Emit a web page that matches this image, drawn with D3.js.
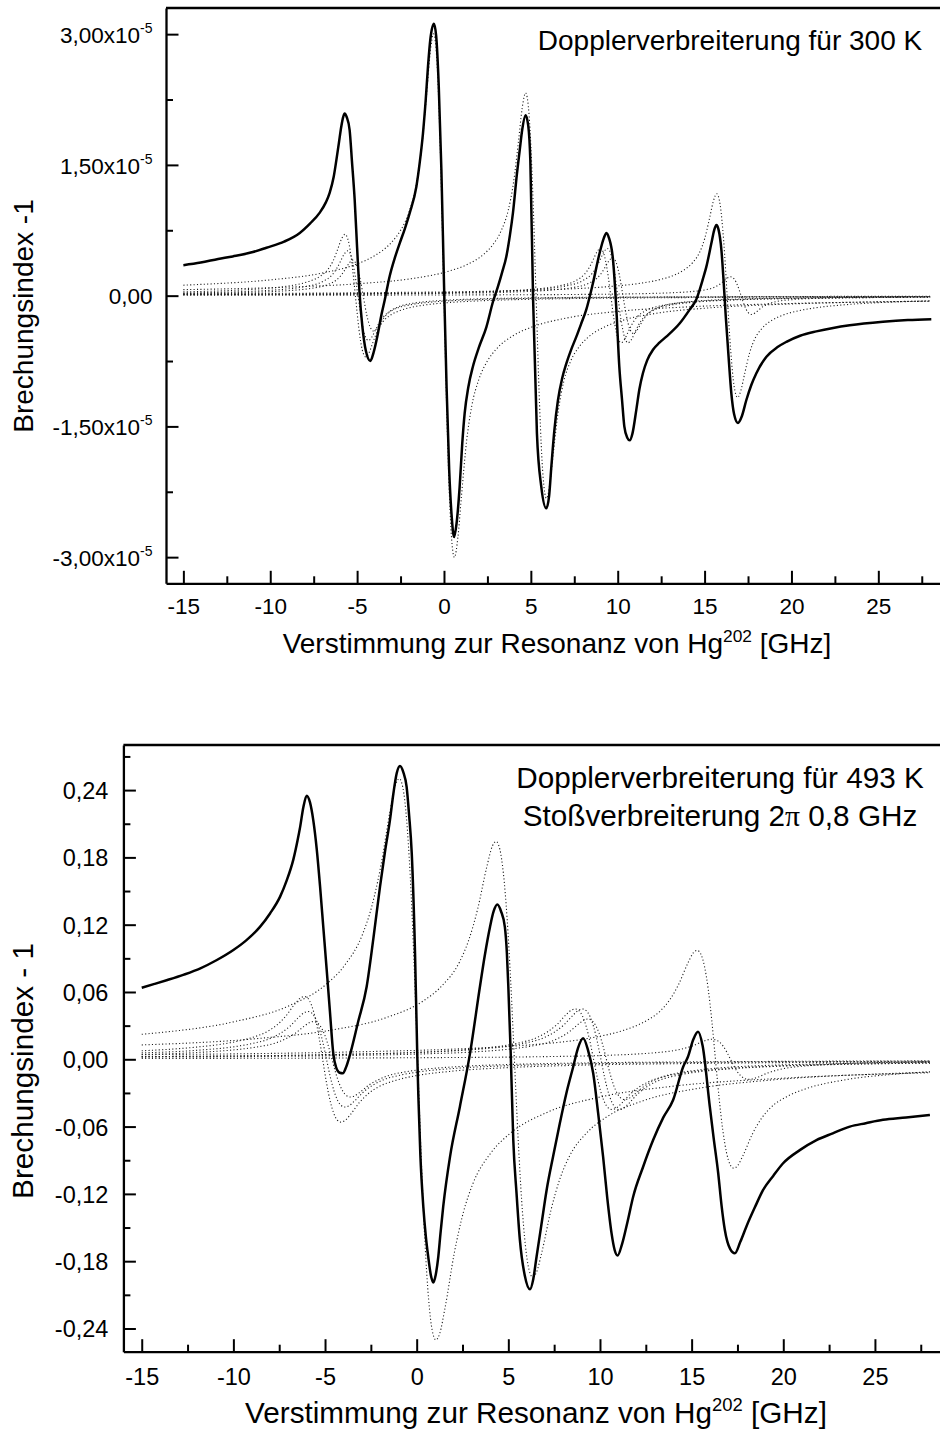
<!DOCTYPE html>
<html>
<head>
<meta charset="utf-8">
<script src="https://cdn.jsdelivr.net/npm/d3@7"></script>
<style>
  html, body { margin: 0; padding: 0; background: #fff; }
  text { font-family: "Liberation Sans", Arial, sans-serif; fill: #000; }
</style>
</head>
<body>
<svg id="chart" width="940" height="1434"></svg>
<script>
// ---------- axis ticks ----------
const xMajorTicks = [-15, -10, -5, 0, 5, 10, 15, 20, 25];
const xMinorTicks = [-12.5, -7.5, -2.5, 2.5, 7.5, 12.5, 17.5, 22.5, 27.5];
const topYMajorTicks = [-3.0, -1.5, 0, 1.5, 3.0];          // units of 1e-5
const topYMinorTicks = [-2.25, -0.75, 0.75, 2.25];
const botYMajorTicks = [-0.24, -0.18, -0.12, -0.06, 0, 0.06, 0.12, 0.18, 0.24];
const botYMinorTicks = [-0.21, -0.15, -0.09, -0.03, 0.03, 0.09, 0.15, 0.21, 0.27];

// ---------- 300 K : total refractive index (units of 1e-5) ----------
const topTotal = [
  [-15,0.35],[-14,0.38],[-13,0.42],[-12.16,0.45],[-11,0.50],[-10.22,0.55],[-9.2,0.62],[-8.3,0.72],
  [-7.7,0.83],[-7.16,0.95],[-6.8,1.07],[-6.58,1.18],[-6.35,1.36],[-6.19,1.56],[-6.05,1.75],[-5.91,1.94],
  [-5.8,2.05],[-5.72,2.09],[-5.6,2.05],[-5.43,1.90],[-5.3,1.55],[-5.14,1.10],[-5.0,0.55],[-4.86,0.03],
  [-4.7,-0.35],[-4.5,-0.63],[-4.24,-0.75],[-4.05,-0.65],[-3.8,-0.43],[-3.6,-0.22],[-3.41,-0.05],[-3.13,0.22],
  [-2.85,0.42],[-2.55,0.60],[-2.25,0.77],[-1.97,0.95],[-1.59,1.25],[-1.4,1.52],[-1.21,1.86],[-1.05,2.25],
  [-0.92,2.63],[-0.78,2.95],[-0.58,3.12],[-0.45,2.98],[-0.3,2.40],[-0.15,1.45],[0,0.15],[0.15,-1.05],
  [0.3,-2.0],[0.45,-2.55],[0.58,-2.77],[0.72,-2.62],[0.9,-2.2],[1.05,-1.7],[1.19,-1.35],[1.4,-1.05],
  [1.67,-0.81],[2.0,-0.6],[2.44,-0.36],[2.82,-0.07],[3.1,0.1],[3.35,0.27],[3.59,0.45],[3.8,0.7],
  [3.97,0.95],[4.2,1.4],[4.36,1.67],[4.5,1.9],[4.7,2.07],[4.85,1.95],[4.97,1.55],[5.13,-0.05],
  [5.35,-1.58],[5.6,-2.19],[5.89,-2.44],[6.05,-2.3],[6.18,-1.96],[6.35,-1.55],[6.56,-1.2],[6.8,-0.95],
  [7.04,-0.78],[7.3,-0.63],[7.62,-0.47],[7.9,-0.32],[8.19,-0.16],[8.57,0.14],[8.96,0.49],[9.2,0.66],
  [9.35,0.72],[9.5,0.66],[9.73,0.41],[9.92,-0.15],[10.09,-0.81],[10.25,-1.2],[10.38,-1.50],[10.55,-1.63],
  [10.69,-1.66],[10.85,-1.58],[11.07,-1.31],[11.25,-1.07],[11.45,-0.89],[11.7,-0.74],[12.03,-0.62],[12.4,-0.54],
  [12.8,-0.47],[13.56,-0.32],[14.14,-0.16],[14.53,-0.04],[14.72,0.07],[14.9,0.19],[15.1,0.33],[15.39,0.60],
  [15.55,0.75],[15.68,0.81],[15.8,0.76],[15.97,0.52],[16.1,0.15],[16.22,-0.24],[16.38,-0.7],[16.54,-1.12],
  [16.7,-1.36],[16.92,-1.46],[17.15,-1.38],[17.4,-1.2],[17.7,-1.02],[17.98,-0.89],[18.56,-0.70],[19.2,-0.59],
  [19.71,-0.53],[20.5,-0.46],[21.43,-0.41],[22.4,-0.37],[23.35,-0.34],[25.27,-0.30],[26.7,-0.28],[28.05,-0.27]
];

// ---------- 300 K : single lines ----------
const top202 = [
  [-15,0.120],[-14,0.129],[-10,0.181],[-7,0.259],[-5,0.364],[-4,0.457],[-3,0.616],[-2.5,0.749],[-2,0.966],
  [-1.6,1.265],[-1.3,1.671],[-1.0,2.314],[-0.8,2.775],[-0.6,3.003],[-0.4,2.670],[-0.2,1.604],[0,0],
  [0.2,-1.604],[0.4,-2.670],[0.6,-3.003],[0.8,-2.775],[1.0,-2.314],[1.3,-1.671],[1.6,-1.265],[2,-0.966],
  [2.5,-0.749],[3,-0.616],[4,-0.457],[5,-0.364],[7,-0.259],[10,-0.181],[14,-0.129],[20,-0.090],[28,-0.064]
];
const top200 = [
  [-15,0.069],[-8.7,0.100],[-4.7,0.140],[-1.7,0.200],[0.3,0.282],[1.3,0.354],[2.3,0.477],[2.8,0.581],
  [3.3,0.748],[3.7,0.980],[4.0,1.294],[4.3,1.793],[4.5,2.150],[4.7,2.326],[4.9,2.068],[5.1,1.243],[5.3,0],
  [5.5,-1.243],[5.7,-2.068],[5.9,-2.326],[6.1,-2.150],[6.3,-1.793],[6.6,-1.294],[6.9,-0.980],[7.3,-0.748],
  [7.8,-0.581],[8.3,-0.477],[9.3,-0.354],[10.3,-0.282],[12.3,-0.200],[15.3,-0.140],[19.3,-0.100],[25.3,-0.070],[28,-0.062]
];
const top199a = [
  [-15,0.022],[-3.7,0.035],[2.3,0.050],[6.3,0.070],[9.3,0.101],[11.3,0.142],[12.3,0.178],[13.3,0.240],
  [13.8,0.292],[14.3,0.376],[14.7,0.492],[15.0,0.650],[15.3,0.901],[15.5,1.080],[15.7,1.169],[15.9,1.039],
  [16.1,0.624],[16.3,0],[16.5,-0.624],[16.7,-1.039],[16.9,-1.169],[17.1,-1.080],[17.3,-0.901],[17.6,-0.650],
  [17.9,-0.492],[18.3,-0.376],[18.8,-0.292],[19.3,-0.240],[20.3,-0.178],[21.3,-0.142],[23.3,-0.101],[26.3,-0.070],[28,-0.060]
];
const top204 = [
  [-15,0.043],[-12.1,0.061],[-10.1,0.085],[-9.1,0.107],[-8.1,0.144],[-7.6,0.176],[-7.1,0.226],[-6.7,0.296],
  [-6.4,0.391],[-6.1,0.542],[-5.9,0.650],[-5.7,0.703],[-5.5,0.625],[-5.3,0.376],[-5.1,0],[-4.9,-0.376],
  [-4.7,-0.625],[-4.5,-0.703],[-4.3,-0.650],[-4.1,-0.542],[-3.8,-0.391],[-3.5,-0.296],[-3.1,-0.226],
  [-2.6,-0.176],[-2.1,-0.144],[-1.1,-0.107],[-0.1,-0.085],[1.9,-0.061],[4.9,-0.042],[8.9,-0.030],[14.9,-0.021],[28,-0.013]
];
const topM5b = [
  [-15,0.031],[-11.95,0.0443],[-9.95,0.0622],[-8.95,0.0783],[-7.95,0.1055],[-6.95,0.1653],[-6.45,0.2356],
  [-6.15,0.3192],[-5.95,0.396],[-5.75,0.475],[-5.55,0.514],[-5.35,0.457],[-5.15,0.275],[-4.95,0],
  [-4.75,-0.275],[-4.55,-0.457],[-4.35,-0.514],[-4.15,-0.475],[-3.95,-0.396],[-3.75,-0.319],[-3.45,-0.236],
  [-2.95,-0.165],[-1.95,-0.1055],[-0.95,-0.0783],[0.05,-0.0622],[2.05,-0.0443],[5.05,-0.031],[9.05,-0.0221],
  [15.05,-0.0154],[28,-0.0094]
];
const topM5c = [
  [-15,0.0236],[-11.65,0.035],[-9.65,0.0491],[-8.65,0.0618],[-7.65,0.0833],[-6.65,0.1305],[-6.15,0.186],
  [-5.85,0.252],[-5.65,0.313],[-5.45,0.375],[-5.25,0.406],[-5.05,0.361],[-4.85,0.217],[-4.65,0],
  [-4.45,-0.217],[-4.25,-0.361],[-4.05,-0.406],[-3.85,-0.375],[-3.65,-0.313],[-3.45,-0.252],[-3.15,-0.186],
  [-2.65,-0.1305],[-1.65,-0.0833],[-0.65,-0.0618],[0.35,-0.0491],[2.35,-0.035],[5.35,-0.0245],[9.35,-0.0175],
  [15.35,-0.0122],[28,-0.0075]
];
const top10a = [
  [-15,0.0132],[-4.4,0.0233],[-0.4,0.0326],[2.6,0.0466],[4.6,0.0655],[5.6,0.0824],[6.6,0.111],[7.6,0.174],
  [8.1,0.248],[8.4,0.336],[8.6,0.417],[8.8,0.500],[9.0,0.541],[9.2,0.481],[9.4,0.289],[9.6,0],
  [9.8,-0.289],[10.0,-0.481],[10.2,-0.541],[10.4,-0.500],[10.6,-0.417],[10.8,-0.336],[11.1,-0.248],
  [11.6,-0.174],[12.6,-0.111],[13.6,-0.0824],[14.6,-0.0655],[16.6,-0.0466],[19.6,-0.0326],[23.6,-0.0233],[28,-0.0177]
];
const top10b = [
  [-15,0.0130],[-4,0.0233],[0,0.0326],[3,0.0466],[5,0.0655],[6,0.0824],[7,0.111],[8,0.174],
  [8.5,0.248],[8.8,0.336],[9.0,0.417],[9.2,0.500],[9.4,0.541],[9.6,0.481],[9.8,0.289],[10.0,0],
  [10.2,-0.289],[10.4,-0.481],[10.6,-0.541],[10.8,-0.500],[11.0,-0.417],[11.2,-0.336],[11.5,-0.248],
  [12,-0.174],[13,-0.111],[14,-0.0824],[15,-0.0655],[17,-0.0466],[20,-0.0326],[24,-0.0233],[28,-0.0181]
];
const top10c = [
  [-15,0.0103],[-3.7,0.0186],[0.3,0.0261],[3.3,0.0373],[5.3,0.0524],[6.3,0.0659],[7.3,0.0888],[8.3,0.139],
  [8.8,0.198],[9.1,0.269],[9.3,0.334],[9.5,0.400],[9.7,0.433],[9.9,0.385],[10.1,0.231],[10.3,0],
  [10.5,-0.231],[10.7,-0.385],[10.9,-0.433],[11.1,-0.400],[11.3,-0.334],[11.5,-0.269],[11.8,-0.198],
  [12.3,-0.139],[13.3,-0.0888],[14.3,-0.0659],[15.3,-0.0524],[17.3,-0.0373],[20.3,-0.0261],[24.3,-0.0186],[28,-0.0147]
];
const top17 = [
  [-15,0.0040],[3.1,0.0093],[7.1,0.0130],[10.1,0.0186],[12.1,0.0262],[13.1,0.0330],[14.1,0.0444],[15.1,0.0696],
  [15.6,0.0992],[15.9,0.134],[16.1,0.167],[16.3,0.200],[16.5,0.216],[16.7,0.192],[16.9,0.116],[17.1,0],
  [17.3,-0.116],[17.5,-0.192],[17.7,-0.216],[17.9,-0.200],[18.1,-0.167],[18.3,-0.134],[18.6,-0.0992],
  [19.1,-0.0696],[20.1,-0.0444],[21.1,-0.0330],[22.1,-0.0262],[24.1,-0.0186],[27.1,-0.0130],[28,-0.0119]
];

// ---------- 493 K + collisions : total ----------
const botTotal = [
  [-15,0.0638],[-14.3,0.0672],[-13.6,0.0707],[-12.7,0.0755],[-11.8,0.0811],[-10.9,0.0885],[-10,0.0974],
  [-9.3,0.106],[-8.55,0.118],[-8.0,0.130],[-7.45,0.145],[-7.1,0.159],[-6.73,0.178],[-6.5,0.195],[-6.36,0.207],
  [-6.18,0.225],[-6.0,0.235],[-5.82,0.229],[-5.64,0.213],[-5.45,0.187],[-5.27,0.154],[-5.09,0.117],[-4.91,0.080],
  [-4.73,0.042],[-4.55,0.0053],[-4.4,-0.007],[-4.2,-0.012],[-4.03,-0.0125],[-3.85,-0.007],[-3.64,0.004],
  [-3.2,0.033],[-2.73,0.0647],[-2.36,0.108],[-2.0,0.154],[-1.73,0.185],[-1.46,0.213],[-1.27,0.237],[-1.09,0.255],
  [-0.91,0.2615],[-0.73,0.256],[-0.55,0.243],[-0.41,0.217],[-0.27,0.184],[-0.09,0.0945],[0.03,0.0053],
  [0.09,-0.032],[0.2,-0.085],[0.36,-0.131],[0.5,-0.158],[0.63,-0.176],[0.78,-0.193],[0.905,-0.199],[1.04,-0.192],
  [1.18,-0.176],[1.3,-0.155],[1.45,-0.131],[1.82,-0.0868],[2.36,-0.042],[2.91,0.0053],[3.45,0.0647],[3.72,0.093],
  [4.0,0.118],[4.2,0.132],[4.40,0.138],[4.6,0.132],[4.81,0.118],[4.92,0.095],[5.0,0.0647],[5.13,0.0053],
  [5.27,-0.072],[5.45,-0.12],[5.63,-0.161],[5.9,-0.193],[6.18,-0.205],[6.36,-0.196],[6.54,-0.176],[6.8,-0.148],
  [7.09,-0.1165],[7.45,-0.086],[7.81,-0.057],[8.17,-0.030],[8.54,-0.0066],[8.8,0.010],[9.08,0.0187],[9.35,0.008],
  [9.63,-0.0125],[9.9,-0.048],[10.17,-0.0868],[10.4,-0.124],[10.63,-0.155],[10.8,-0.170],[10.96,-0.175],
  [11.2,-0.165],[11.5,-0.145],[11.81,-0.1225],[12.35,-0.096],[12.9,-0.072],[13.45,-0.052],[13.99,-0.0363],
  [14.54,-0.0066],[14.8,0.0023],[15.1,0.018],[15.35,0.0246],[15.6,0.012],[15.99,-0.042],[16.2,-0.07],
  [16.45,-0.1016],[16.63,-0.13],[16.81,-0.152],[17.1,-0.169],[17.36,-0.173],[17.65,-0.163],[17.99,-0.149],
  [18.45,-0.132],[18.9,-0.1165],[19.45,-0.104],[19.99,-0.0927],[20.9,-0.081],[21.81,-0.072],[22.7,-0.066],
  [23.63,-0.060],[24.5,-0.057],[25.44,-0.054],[26.7,-0.052],[28,-0.0497]
];

// ---------- 493 K + collisions : single lines ----------
const bot202 = [
  [-15,0.0223],[-13.95,0.0239],[-9.95,0.0335],[-6.95,0.0478],[-4.95,0.0667],[-3.95,0.0834],[-2.95,0.1116],
  [-2.45,0.1363],[-1.95,0.1729],[-1.45,0.2214],[-1.15,0.2449],[-0.95,0.2502],[-0.75,0.2419],[-0.55,0.2137],
  [-0.35,0.1628],[-0.15,0.0891],[0.05,0],[0.25,-0.0891],[0.45,-0.1628],[0.65,-0.2137],[0.85,-0.2419],
  [1.05,-0.2502],[1.25,-0.2449],[1.55,-0.2214],[2.05,-0.1729],[2.55,-0.1363],[3.05,-0.1116],[4.05,-0.0834],
  [5.05,-0.0667],[7.05,-0.0478],[10.05,-0.0335],[14.05,-0.0239],[20.05,-0.0168],[28,-0.0120]
];
const bot200 = [
  [-15,0.0128],[-8.67,0.0185],[-4.67,0.0260],[-1.67,0.0371],[0.33,0.0517],[1.33,0.0647],[2.33,0.0866],
  [2.83,0.1058],[3.33,0.1342],[3.83,0.1719],[4.13,0.1901],[4.33,0.1942],[4.53,0.1877],[4.73,0.1659],
  [4.93,0.1264],[5.13,0.0692],[5.33,0],[5.53,-0.0692],[5.73,-0.1264],[5.93,-0.1659],[6.13,-0.1877],
  [6.33,-0.1942],[6.53,-0.1901],[6.83,-0.1719],[7.33,-0.1342],[7.83,-0.1058],[8.33,-0.0866],[9.33,-0.0647],
  [10.33,-0.0517],[12.33,-0.0371],[15.33,-0.0260],[19.33,-0.0185],[25.33,-0.0130],[28,-0.0115]
];
const bot199a = [
  [-15,0.0041],[-3.7,0.0065],[2.3,0.0093],[6.3,0.0130],[9.3,0.0185],[11.3,0.0259],[12.3,0.0324],[13.3,0.0433],
  [13.8,0.0529],[14.3,0.0671],[14.8,0.0859],[15.1,0.0950],[15.3,0.0971],[15.5,0.0939],[15.7,0.0829],
  [15.9,0.0632],[16.1,0.0346],[16.3,0],[16.5,-0.0346],[16.7,-0.0632],[16.9,-0.0829],[17.1,-0.0939],
  [17.3,-0.0971],[17.5,-0.0950],[17.8,-0.0859],[18.3,-0.0671],[18.8,-0.0529],[19.3,-0.0433],[20.3,-0.0324],
  [21.3,-0.0259],[23.3,-0.0185],[26.3,-0.0130],[28,-0.0111]
];
const bot204 = [
  [-15,0.0076],[-12.13,0.0107],[-10.13,0.0149],[-9.13,0.0187],[-8.13,0.0250],[-7.63,0.0305],[-7.13,0.0387],
  [-6.63,0.0496],[-6.33,0.0548],[-6.13,0.0560],[-5.93,0.0542],[-5.73,0.0479],[-5.53,0.0365],[-5.33,0.0200],
  [-5.13,0],[-4.93,-0.0200],[-4.73,-0.0365],[-4.53,-0.0479],[-4.33,-0.0542],[-4.13,-0.0560],[-3.93,-0.0548],
  [-3.63,-0.0496],[-3.13,-0.0387],[-2.63,-0.0305],[-2.13,-0.0250],[-1.13,-0.0187],[-0.13,-0.0149],
  [1.87,-0.0107],[4.87,-0.0075],[8.87,-0.0053],[14.87,-0.0038],[28,-0.0023]
];
const botM5b = [
  [-15,0.0057],[-11.92,0.0081],[-9.92,0.0113],[-8.92,0.0142],[-7.92,0.0190],[-6.92,0.0294],[-6.42,0.0377],
  [-6.12,0.0417],[-5.92,0.0426],[-5.72,0.0412],[-5.52,0.0364],[-5.32,0.0277],[-5.12,0.0152],[-4.92,0],
  [-4.72,-0.0152],[-4.52,-0.0277],[-4.32,-0.0364],[-4.12,-0.0412],[-3.92,-0.0426],[-3.72,-0.0417],
  [-3.42,-0.0377],[-2.92,-0.0294],[-1.92,-0.0190],[-0.92,-0.0142],[0.08,-0.0113],[2.08,-0.0081],
  [5.08,-0.0057],[9.08,-0.0041],[15.08,-0.0029],[28,-0.0017]
];
const botM5c = [
  [-15,0.0043],[-11.62,0.0064],[-9.62,0.0090],[-8.62,0.0112],[-7.62,0.0150],[-6.62,0.0232],[-6.12,0.0297],
  [-5.82,0.0329],[-5.62,0.0336],[-5.42,0.0325],[-5.22,0.0287],[-5.02,0.0219],[-4.82,0.0120],[-4.62,0],
  [-4.42,-0.0120],[-4.22,-0.0219],[-4.02,-0.0287],[-3.82,-0.0325],[-3.62,-0.0336],[-3.42,-0.0329],
  [-3.12,-0.0297],[-2.62,-0.0232],[-1.62,-0.0150],[-0.62,-0.0112],[0.38,-0.0090],[2.38,-0.0064],
  [5.38,-0.0045],[9.38,-0.0032],[15.38,-0.0023],[28,-0.0014]
];
const bot10a = [
  [-15,0.0024],[-4.35,0.0043],[-0.35,0.0060],[2.65,0.0086],[4.65,0.0119],[5.65,0.0149],[6.65,0.0200],
  [7.65,0.0310],[8.15,0.0397],[8.45,0.0439],[8.65,0.0448],[8.85,0.0433],[9.05,0.0383],[9.25,0.0292],
  [9.45,0.0160],[9.65,0],[9.85,-0.0160],[10.05,-0.0292],[10.25,-0.0383],[10.45,-0.0433],[10.65,-0.0448],
  [10.85,-0.0439],[11.15,-0.0397],[11.65,-0.0310],[12.65,-0.0200],[13.65,-0.0149],[14.65,-0.0119],
  [16.65,-0.0086],[19.65,-0.0060],[23.65,-0.0043],[28,-0.0033]
];
const bot10b = [
  [-15,0.0024],[-3.95,0.0043],[0.05,0.0060],[3.05,0.0086],[5.05,0.0119],[6.05,0.0149],[7.05,0.0200],
  [8.05,0.0310],[8.55,0.0397],[8.85,0.0439],[9.05,0.0448],[9.25,0.0433],[9.45,0.0383],[9.65,0.0292],
  [9.85,0.0160],[10.05,0],[10.25,-0.0160],[10.45,-0.0292],[10.65,-0.0383],[10.85,-0.0433],[11.05,-0.0448],
  [11.25,-0.0439],[11.55,-0.0397],[12.05,-0.0310],[13.05,-0.0200],[14.05,-0.0149],[15.05,-0.0119],
  [17.05,-0.0086],[20.05,-0.0060],[24.05,-0.0043],[28,-0.0034]
];
const bot10c = [
  [-15,0.0019],[-3.65,0.0034],[0.35,0.0048],[3.35,0.0068],[5.35,0.0096],[6.35,0.0120],[7.35,0.0160],
  [8.35,0.0248],[8.85,0.0317],[9.15,0.0351],[9.35,0.0359],[9.55,0.0347],[9.75,0.0306],[9.95,0.0233],
  [10.15,0.0128],[10.35,0],[10.55,-0.0128],[10.75,-0.0233],[10.95,-0.0306],[11.15,-0.0347],[11.35,-0.0359],
  [11.55,-0.0351],[11.85,-0.0317],[12.35,-0.0248],[13.35,-0.0160],[14.35,-0.0120],[15.35,-0.0096],
  [17.35,-0.0068],[20.35,-0.0048],[24.35,-0.0034],[28,-0.0027]
];
const bot17 = [
  [-15,0.0007],[3.12,0.0017],[7.12,0.0024],[10.12,0.0034],[12.12,0.0048],[13.12,0.0060],[14.12,0.0080],
  [15.12,0.0124],[15.62,0.0159],[15.92,0.0175],[16.12,0.0179],[16.32,0.0173],[16.52,0.0153],[16.72,0.0117],
  [16.92,0.0064],[17.12,0],[17.32,-0.0064],[17.52,-0.0117],[17.72,-0.0153],[17.92,-0.0173],[18.12,-0.0179],
  [18.32,-0.0175],[18.62,-0.0159],[19.12,-0.0124],[20.12,-0.0080],[21.12,-0.0060],[22.12,-0.0048],
  [24.12,-0.0034],[27.12,-0.0024],[28,-0.0022]
];

const topLines = [top202, top200, top199a, top204, topM5b, topM5c, top10a, top10b, top10c, top17];
const botLines = [bot202, bot200, bot199a, bot204, botM5b, botM5c, bot10a, bot10b, bot10c, bot17];

// ---------- drawing ----------
const svg = d3.select("#chart");

function topTickLabel(sel) {
  sel.each(function (d) {
    const t = d3.select(this);
    t.text(null);
    if (d === 0) { t.text("0,00"); return; }
    t.append("tspan").text(d.toFixed(2).replace(".", ","));
    t.append("tspan").text("x10");
    t.append("tspan").attr("dy", -10).attr("font-size", 14).text("-5");
  });
}

function drawPanel(cfg) {
  const g = svg.append("g");
  const x = d3.scaleLinear().domain([-16, 28.55]).range([cfg.left, 940]);
  const y = d3.scaleLinear().domain(cfg.yDomain).range([cfg.bottom, cfg.top]);

  const clipId = "clip-" + cfg.name;
  svg.append("clipPath").attr("id", clipId)
    .append("rect").attr("x", cfg.left).attr("y", cfg.top)
    .attr("width", 940 - cfg.left).attr("height", cfg.bottom - cfg.top);

  const line = d3.line().x(d => x(d[0])).y(d => y(d[1])).curve(d3.curveMonotoneX);
  const plot = g.append("g").attr("clip-path", `url(#${clipId})`);

  plot.selectAll("path.comp").data(cfg.components).join("path")
    .attr("class", "comp")
    .attr("d", line)
    .attr("fill", "none")
    .attr("stroke", "#1a1a1a")
    .attr("stroke-width", 1.1)
    .attr("stroke-dasharray", "1.1 2.3");

  plot.append("path").datum(cfg.total)
    .attr("d", line)
    .attr("fill", "none")
    .attr("stroke", "#000")
    .attr("stroke-width", 2.5)
    .attr("stroke-linejoin", "round");

  // minor ticks
  g.append("g").attr("transform", `translate(0,${cfg.bottom})`)
    .call(d3.axisBottom(x).tickValues(xMinorTicks).tickSize(-7).tickFormat(""))
    .call(a => a.select(".domain").remove());
  g.append("g").attr("transform", `translate(${cfg.left},0)`)
    .call(d3.axisLeft(y).tickValues(cfg.yMinor).tickSize(-7).tickFormat(""))
    .call(a => a.select(".domain").remove());

  // major axes
  const xa = g.append("g").attr("transform", `translate(0,${cfg.bottom})`)
    .call(d3.axisBottom(x).tickValues(xMajorTicks).tickSizeInner(-12.5).tickSizeOuter(0)
      .tickPadding(cfg.xPad).tickFormat(d => String(d)));
  xa.selectAll("text").attr("font-size", cfg.tickFont).attr("font-family", "Liberation Sans, Arial, sans-serif");

  const ya = g.append("g").attr("transform", `translate(${cfg.left},0)`)
    .call(d3.axisLeft(y).tickValues(cfg.yMajor).tickSizeInner(-12.5).tickSizeOuter(0)
      .tickPadding(cfg.yPad).tickFormat(cfg.yFormat));
  ya.selectAll("text").attr("font-size", cfg.tickFont).attr("dy", "0.36em")
    .attr("font-family", "Liberation Sans, Arial, sans-serif");
  if (cfg.yLabelFn) ya.selectAll(".tick text").call(cfg.yLabelFn);

  g.selectAll(".tick line").attr("stroke", "#000").attr("stroke-width", 2);
  g.selectAll(".domain").attr("stroke", "#000").attr("stroke-width", 2.3);

  // upper frame line
  g.append("line").attr("x1", cfg.left).attr("x2", 940).attr("y1", cfg.top).attr("y2", cfg.top)
    .attr("stroke", "#000").attr("stroke-width", 2.3);

  // axis titles
  const xt = g.append("text").attr("x", cfg.xTitleX).attr("y", cfg.xTitleY)
    .attr("text-anchor", "middle").attr("font-size", cfg.titleFont);
  xt.append("tspan").text("Verstimmung zur Resonanz von Hg");
  xt.append("tspan").attr("dy", -cfg.titleFont * 0.4).attr("font-size", cfg.titleFont * 0.62).text("202");
  xt.append("tspan").attr("dy", cfg.titleFont * 0.4).text(" [GHz]");

  g.append("text").attr("transform", `translate(${cfg.yTitleX},${cfg.yTitleY}) rotate(-90)`)
    .attr("text-anchor", "middle").attr("font-size", cfg.titleFont).text(cfg.yTitle);

  // annotation
  cfg.notes.forEach(n => {
    const t = g.append("text").attr("x", n.x).attr("y", n.y)
      .attr("text-anchor", "middle").attr("font-size", cfg.titleFont);
    n.parts.forEach(p => {
      const s = t.append("tspan").text(p.text);
      if (p.serif) s.attr("font-family", "Liberation Serif, serif");
    });
  });
}

drawPanel({
  name: "top", left: 166, top: 8, bottom: 583.3,
  yDomain: [-3.3, 3.3], yMajor: topYMajorTicks, yMinor: topYMinorTicks,
  yFormat: d => String(d), yLabelFn: topTickLabel,
  total: topTotal, components: topLines,
  tickFont: 22.5, titleFont: 28, xPad: 14.5, yPad: 13.5,
  xTitleX: 557, xTitleY: 653, yTitleX: 33, yTitleY: 316,
  yTitle: "Brechungsindex -1",
  notes: [{ x: 730, y: 50, parts: [{ text: "Dopplerverbreiterung für 300 K" }] }]
});

drawPanel({
  name: "bottom", left: 123.4, top: 745, bottom: 1351.7,
  yDomain: [-0.2607, 0.2802], yMajor: botYMajorTicks, yMinor: botYMinorTicks,
  yFormat: d => d.toFixed(2).replace(".", ","), yLabelFn: null,
  total: botTotal, components: botLines,
  tickFont: 23.5, titleFont: 29.7, xPad: 16.5, yPad: 15,
  xTitleX: 536, xTitleY: 1423, yTitleX: 33, yTitleY: 1071,
  yTitle: "Brechungsindex - 1",
  notes: [
    { x: 720, y: 788, parts: [{ text: "Dopplerverbreiterung für 493 K" }] },
    { x: 720, y: 826, parts: [{ text: "Stoßverbreiterung 2" }, { text: "π", serif: true }, { text: " 0,8 GHz" }] }
  ]
});
</script>
</body>
</html>
